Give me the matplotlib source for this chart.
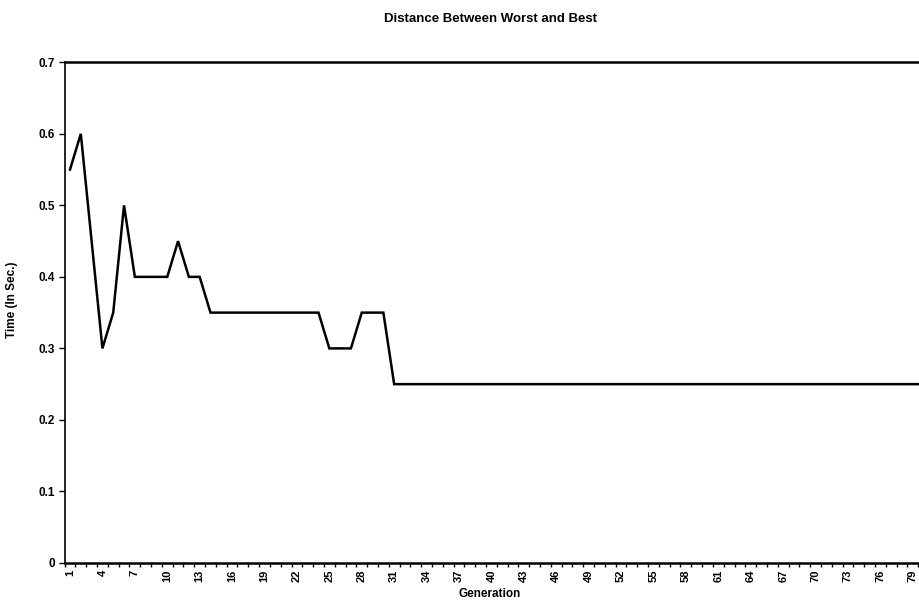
import matplotlib
matplotlib.use("Agg")
import matplotlib.pyplot as plt
import numpy as np

generations = list(range(1, 81))
times = ([0.55, 0.6, 0.45, 0.3, 0.35, 0.5, 0.4, 0.4, 0.4, 0.4, 0.45, 0.4, 0.4]
         + [0.35] * 11 + [0.3] * 3 + [0.35] * 3 + [0.25] * 50)
x_labels = list(range(1, 80, 3))
y_ticks = [0, 0.1, 0.2, 0.3, 0.4, 0.5, 0.6, 0.7]

plt.rcParams['font.family'] = ['Liberation Sans', 'DejaVu Sans']
plt.rcParams['font.weight'] = 'bold'

fig = plt.figure(figsize=(9.19, 6.04), dpi=100)
ax = fig.add_axes([0.0703, 0.0679, 0.9406, 0.829])

ax.plot(generations, times, color='black', lw=1.8, solid_joinstyle='miter')

ax.set_xlim(0.5, 80.5)
ax.set_ylim(0, 0.7)

ax.set_xticks(x_labels)
ax.set_xticklabels([str(v) for v in x_labels], rotation=90, fontsize=8, fontweight='bold')
ax.tick_params(axis='x', which='major', length=0, pad=5)
ax.set_xticks(np.arange(0.5, 81, 1), minor=True)
ax.tick_params(axis='x', which='minor', length=3, width=1, direction='out')

ax.set_yticks(y_ticks)
ax.set_yticklabels(['0', '0.1', '0.2', '0.3', '0.4', '0.5', '0.6', '0.7'], fontsize=8.5, fontweight='bold')
ax.tick_params(axis='y', length=4, width=1, direction='out', pad=3)

ax.spines['right'].set_visible(False)
ax.spines['top'].set_linewidth(1.8)
ax.spines['bottom'].set_linewidth(1.8)
ax.spines['left'].set_linewidth(1.2)

fig.text(0.534, 0.978, 'Distance Between Worst and Best', ha='center', va='top',
         fontsize=9.5, fontweight='bold')
fig.text(0.533, 0.006, 'Generation', ha='center', va='bottom', fontsize=8.5, fontweight='bold')
fig.text(0.007, 0.503, 'Time (In Sec.)', ha='left', va='center', rotation=90,
         fontsize=8.5, fontweight='bold')

fig.savefig('out.png', dpi=100)
